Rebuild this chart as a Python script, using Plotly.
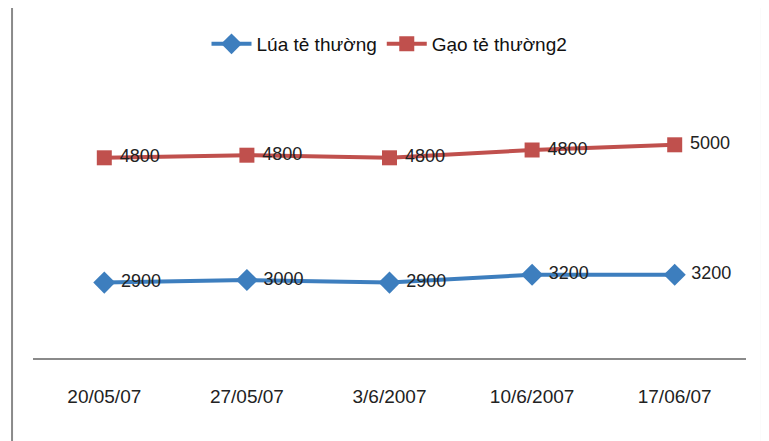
import plotly.graph_objects as go

dates = ["20/05/07", "27/05/07", "3/6/2007", "10/6/2007", "17/06/07"]
lua = [2900, 3000, 2900, 3200, 3200]
gao = [4800, 4800, 4800, 4800, 5000]

blue = "#3D7EBE"
red = "#C0504D"
FONT = "Liberation Sans, Arial, sans-serif"

fig = go.Figure()
fig.add_trace(go.Scatter(
    x=dates, y=lua, name="Lúa tẻ thường", stackgroup="one", fill="none",
    mode="lines+markers+text", text=[" " + str(v) for v in lua],
    textposition="middle right", textfont=dict(family=FONT, size=18, color="#222222"),
    line=dict(color=blue, width=4), marker=dict(symbol="diamond", size=17, color=blue),
    cliponaxis=False,
))
fig.add_trace(go.Scatter(
    x=dates, y=gao, name="Gạo tẻ thường2", stackgroup="one", fill="none",
    mode="lines+markers+text", text=[" " + str(v) for v in gao],
    textposition="middle right", textfont=dict(family=FONT, size=18, color="#222222"),
    line=dict(color=red, width=4), marker=dict(symbol="square", size=15, color=red),
    cliponaxis=False,
))

# page body adds an 8px offset, so the figure is 8px smaller than the window
fig.update_layout(
    width=761, height=433,
    margin=dict(l=25, r=23, t=90, b=83, autoexpand=False),
    paper_bgcolor="white", plot_bgcolor="white",
    showlegend=True,
    legend=dict(orientation="h", x=0.5, xanchor="center", y=1.2077, yanchor="middle",
                font=dict(family=FONT, size=19, color="#111111"), itemwidth=40,
                traceorder="normal"),
    xaxis=dict(type="category", range=[-0.5, 4.5], showgrid=False, zeroline=False,
               showline=True, linecolor="#8A8A8A", linewidth=1.5, ticks="",
               automargin=False,
               tickfont=dict(family=FONT, size=19, color="#222222"), ticklabelstandoff=20),
    yaxis=dict(range=[0, 10000], visible=False, showgrid=False, zeroline=False,
               automargin=False),
    shapes=[
        dict(type="line", xref="paper", yref="paper", x0=-0.0294, x1=-0.0294, y0=-1, y1=2,
             line=dict(color="#8A8A8A", width=2)),
        dict(type="line", xref="paper", yref="paper", x0=1.0224, x1=1.0224, y0=-1, y1=2,
             line=dict(color="#8A8A8A", width=2)),
    ],
)

fig.write_html("out.html")
